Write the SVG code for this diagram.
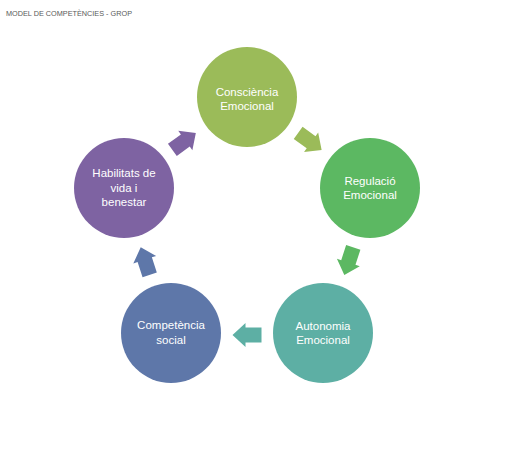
<svg xmlns="http://www.w3.org/2000/svg" width="513" height="452" viewBox="0 0 513 452">
<style>
.lbl{font-family:"Liberation Sans",Arial,sans-serif;font-size:11.5px;fill:#ffffff;text-anchor:middle}
.ttl{font-family:"Liberation Sans",Arial,sans-serif;font-size:8px;fill:#595959}
</style>
<defs>
<path id="arr" d="M-14.5,-7.5 L1.5,-7.5 L1.5,-12 L14.5,0 L1.5,12 L1.5,7.5 L-14.5,7.5 Z"/>
</defs>
<rect width="513" height="452" fill="#ffffff"/>
<text class="ttl" x="6" y="16" textLength="126" lengthAdjust="spacingAndGlyphs">MODEL DE COMPETÈNCIES - GROP</text>
<g id="connectors">
<use href="#arr" fill="#9BBB59" transform="translate(309.9,141.4) rotate(36)"/>
<use href="#arr" fill="#5CB862" transform="translate(348.8,261.1) rotate(108)"/>
<use href="#arr" fill="#5DAFA4" transform="translate(247,335) rotate(180)"/>
<use href="#arr" fill="#5E77A9" transform="translate(145.2,261.1) rotate(252)"/>
<use href="#arr" fill="#7E63A2" transform="translate(184.1,141.4) rotate(324)"/>
</g>
<g id="n1">
<circle cx="247" cy="97" r="50" fill="#9BBB59"/>
<text class="lbl" x="247" y="96">Consciència</text>
<text class="lbl" x="247" y="110">Emocional</text>
</g>
<g id="n2">
<circle cx="370" cy="188" r="50" fill="#5CB862"/>
<text class="lbl" x="370" y="185">Regulació</text>
<text class="lbl" x="370" y="199">Emocional</text>
</g>
<g id="n3">
<circle cx="323" cy="333" r="50" fill="#5DAFA4"/>
<text class="lbl" x="323" y="330">Autonomia</text>
<text class="lbl" x="323" y="344">Emocional</text>
</g>
<g id="n4">
<circle cx="171" cy="333" r="50" fill="#5E77A9"/>
<text class="lbl" x="171" y="329">Competència</text>
<text class="lbl" x="171" y="344">social</text>
</g>
<g id="n5">
<circle cx="124" cy="188" r="50" fill="#7E63A2"/>
<text class="lbl" x="124" y="177">Habilitats de</text>
<text class="lbl" x="124" y="192">vida i</text>
<text class="lbl" x="124" y="206">benestar</text>
</g>
</svg>
